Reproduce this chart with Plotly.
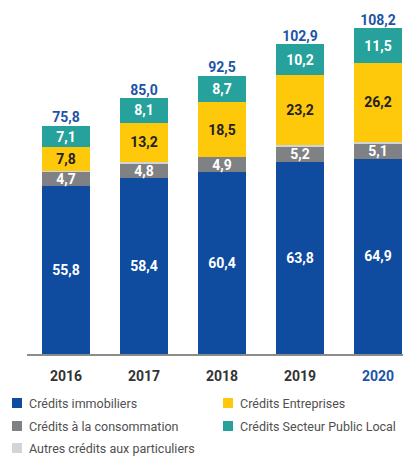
import plotly.graph_objects as go

years = ['2016', '2017', '2018', '2019', '2020']
immobiliers = [55.8, 58.4, 60.4, 63.8, 64.9]
consommation = [4.7, 4.8, 4.9, 5.2, 5.1]
autres = [0.4, 0.5, 0.0, 0.5, 0.5]
entreprises = [7.8, 13.2, 18.5, 23.2, 26.2]
secteur_public = [7.1, 8.1, 8.7, 10.2, 11.5]
totals = [75.8, 85.0, 92.5, 102.9, 108.2]

BLUE = '#0f4c9f'
GREY = '#808184'
LIGHT = '#d3d4d5'
YELLOW = '#fec80b'
TEAL = '#27a19b'
TOTAL_BLUE = '#1c55a6'
FONT = 'Roboto'

# plot area in pixels (used to place the hand-drawn legend)
L, T, W, H = 27, 10, 376, 344

def px_x(x):
    return (x - L) / W

def px_y(y):
    return (T + H - y) / H

series = [
    ('Crédits immobiliers', immobiliers, BLUE, 'white'),
    ('Crédits à la consommation', consommation, GREY, 'white'),
    ('Autres crédits aux particuliers', autres, LIGHT, 'white'),
    ('Crédits Entreprises', entreprises, YELLOW, '#222222'),
    ('Crédits Secteur Public Local', secteur_public, TEAL, 'white'),
]

fig = go.Figure()
for name, vals, color, txtcolor in series:
    show_text = name != 'Autres crédits aux particuliers'
    fig.add_trace(go.Bar(
        x=years,
        y=vals,
        name=name,
        marker=dict(color=color, line=dict(width=0)),
        texttemplate='%{y:.1f}' if show_text else '',
        textposition='inside',
        insidetextanchor='middle',
        textangle=0,
        constraintext='none',
        textfont=dict(family=FONT, size=14, color=txtcolor, weight='bold'),
        showlegend=False,
        hoverinfo='skip'
    ))

# totals above the bars
fig.add_trace(go.Scatter(
    x=years,
    y=totals,
    mode='text',
    text=[f'{v:.1f}'.replace('.', ',') for v in totals],
    textposition='top center',
    textfont=dict(family=FONT, size=14, color=TOTAL_BLUE, weight='bold'),
    showlegend=False,
    hoverinfo='skip'
))

# legend drawn by hand (two columns, small gap between square and text)
legend_items = [
    ('Crédits immobiliers', BLUE, 12, 403),
    ('Crédits Entreprises', YELLOW, 223, 403),
    ('Crédits à la consommation', GREY, 12, 426),
    ('Crédits Secteur Public Local', TEAL, 223, 426),
    ('Autres crédits aux particuliers', LIGHT, 12, 448),
]
for label, color, x, y in legend_items:
    fig.add_shape(
        type='rect', xref='paper', yref='paper',
        x0=px_x(x), x1=px_x(x + 10), y0=px_y(y + 5), y1=px_y(y - 5),
        fillcolor=color, line=dict(width=0)
    )
    fig.add_annotation(
        text=label, xref='paper', yref='paper',
        x=px_x(x + 15), y=px_y(y), xanchor='left', yanchor='middle',
        showarrow=False,
        font=dict(family=FONT, size=12.5, color='#505050')
    )

tick_text = years[:-1] + [f"<span style='color:{TOTAL_BLUE}'>{years[-1]}</span>"]

fig.update_layout(
    width=403,
    height=457,
    margin=dict(l=L, r=0, t=T, b=457 - T - H),
    barmode='stack',
    bargap=0.385,
    separators=', ',
    plot_bgcolor='white',
    paper_bgcolor='white',
    showlegend=False,
    xaxis=dict(
        type='category',
        range=[-0.5, 4.32],
        tickvals=years,
        ticktext=tick_text,
        showline=True,
        linecolor='#8c8c8c',
        linewidth=1.5,
        showgrid=False,
        ticks='',
        ticklabelstandoff=8,
        tickfont=dict(family=FONT, size=14, color='#333333', weight='bold'),
        fixedrange=True
    ),
    yaxis=dict(
        range=[0, H / 3.01],
        visible=False,
        showgrid=False,
        zeroline=False,
        fixedrange=True
    )
)

# drop the default page margin so the figure sits at the window's corner
fig.write_html(
    "out.html",
    config={'displayModeBar': False},
    post_script="document.body.style.margin='0';"
)
